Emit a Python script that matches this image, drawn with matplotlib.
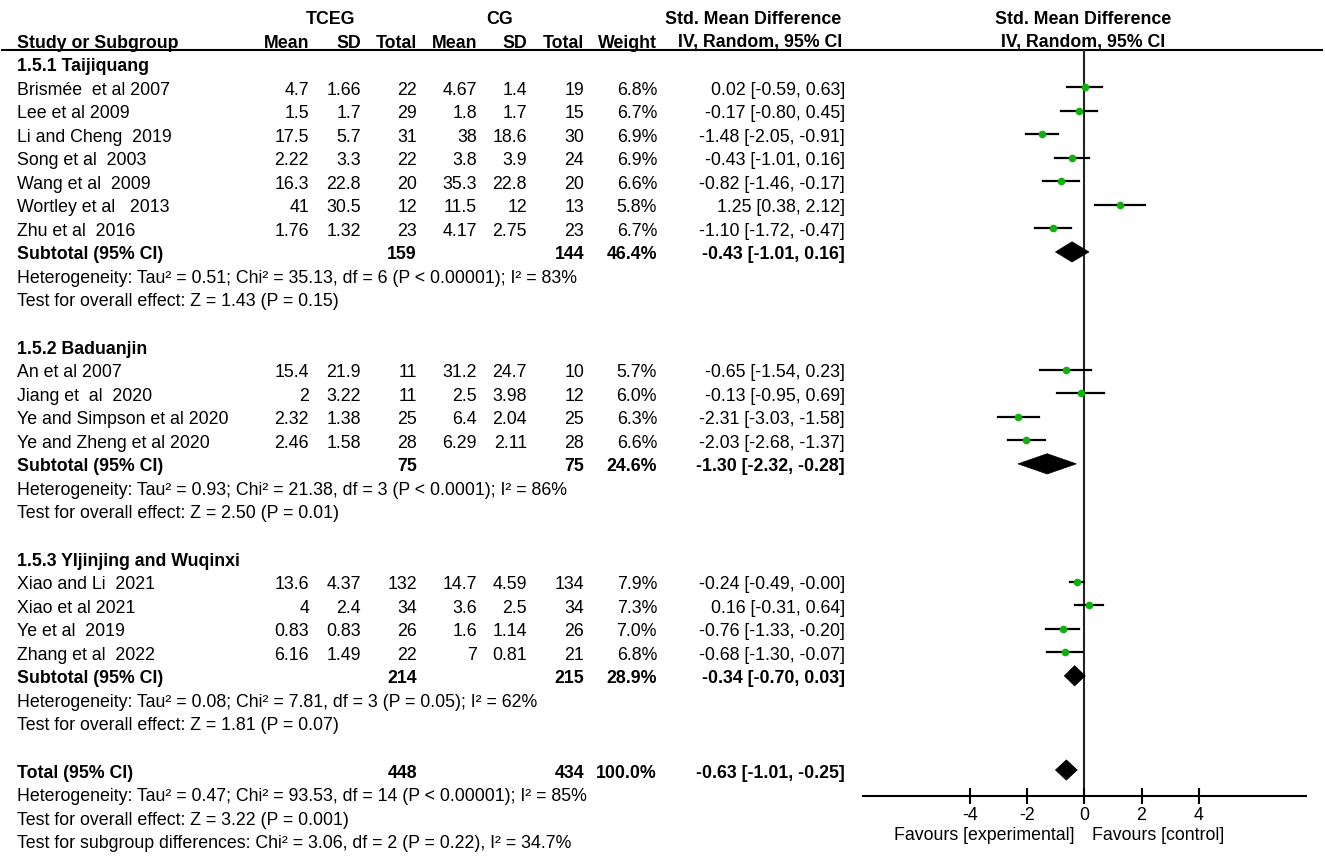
import numpy as np
import matplotlib
matplotlib.use("Agg")
import matplotlib.pyplot as plt
from matplotlib.patches import Polygon

plt.rcParams['font.family'] = ['Liberation Sans', 'DejaVu Sans']

# study level data
studies = ["Brismée  et al 2007", "Lee et al 2009", "Li and Cheng  2019", "Song et al  2003",
           "Wang et al  2009", "Wortley et al   2013", "Zhu et al  2016",
           "An et al 2007", "Jiang et  al  2020", "Ye and Simpson et al 2020", "Ye and Zheng et al 2020",
           "Xiao and Li  2021", "Xiao et al 2021", "Ye et al  2019", "Zhang et al  2022"]
group = [0]*7 + [1]*4 + [2]*4
t_mean = [4.7, 1.5, 17.5, 2.22, 16.3, 41, 1.76, 15.4, 2, 2.32, 2.46, 13.6, 4, 0.83, 6.16]
t_sd = [1.66, 1.7, 5.7, 3.3, 22.8, 30.5, 1.32, 21.9, 3.22, 1.38, 1.58, 4.37, 2.4, 0.83, 1.49]
t_n = [22, 29, 31, 22, 20, 12, 23, 11, 11, 25, 28, 132, 34, 26, 22]
c_mean = [4.67, 1.8, 38, 3.8, 35.3, 11.5, 4.17, 31.2, 2.5, 6.4, 6.29, 14.7, 3.6, 1.6, 7]
c_sd = [1.4, 1.7, 18.6, 3.9, 22.8, 12, 2.75, 24.7, 3.98, 2.04, 2.11, 4.59, 2.5, 1.14, 0.81]
c_n = [19, 15, 30, 24, 20, 13, 23, 10, 12, 25, 28, 134, 34, 26, 21]
weight = [6.8, 6.7, 6.9, 6.9, 6.6, 5.8, 6.7, 5.7, 6.0, 6.3, 6.6, 7.9, 7.3, 7.0, 6.8]
smd = [0.02, -0.17, -1.48, -0.43, -0.82, 1.25, -1.10, -0.65, -0.13, -2.31, -2.03, -0.24, 0.16, -0.76, -0.68]
ci_lo = [-0.59, -0.80, -2.05, -1.01, -1.46, 0.38, -1.72, -1.54, -0.95, -3.03, -2.68, -0.49, -0.31, -1.33, -1.30]
ci_hi = [0.63, 0.45, -0.91, 0.16, -0.17, 2.12, -0.47, 0.23, 0.69, -1.58, -1.37, -0.0, 0.64, -0.20, -0.07]

# subgroups
group_names = ["1.5.1 Taijiquang", "1.5.2 Baduanjin", "1.5.3 YIjinjing and Wuqinxi"]
sub_t_n = [159, 75, 214]
sub_c_n = [144, 75, 215]
sub_w = [46.4, 24.6, 28.9]
sub_smd = [-0.43, -1.30, -0.34]
sub_lo = [-1.01, -2.32, -0.70]
sub_hi = [0.16, -0.28, 0.03]
sub_het = ["Heterogeneity: Tau² = 0.51; Chi² = 35.13, df = 6 (P < 0.00001); I² = 83%",
           "Heterogeneity: Tau² = 0.93; Chi² = 21.38, df = 3 (P < 0.0001); I² = 86%",
           "Heterogeneity: Tau² = 0.08; Chi² = 7.81, df = 3 (P = 0.05); I² = 62%"]
sub_z = ["Test for overall effect: Z = 1.43 (P = 0.15)",
         "Test for overall effect: Z = 2.50 (P = 0.01)",
         "Test for overall effect: Z = 1.81 (P = 0.07)"]

# overall
tot_t_n, tot_c_n, tot_w = 448, 434, 100.0
tot_smd, tot_lo, tot_hi = -0.63, -1.01, -0.25
tot_notes = ["Heterogeneity: Tau² = 0.47; Chi² = 93.53, df = 14 (P < 0.00001); I² = 85%",
             "Test for overall effect: Z = 3.22 (P = 0.001)",
             "Test for subgroup differences: Chi² = 3.06, df = 2 (P = 0.22), I² = 34.7%"]

W, H = 1325, 858
FS = 12.8
ROW0, PITCH = 63.5, 23.55   # pixel y of row 0 marks, row spacing
TXT_OFF = 3.0

fig = plt.figure(figsize=(W/100, H/100), dpi=100)
tx = fig.add_axes([0, 0, 1, 1])
tx.set_xlim(0, W)
tx.set_ylim(H, 0)
tx.axis('off')

def ty(r):
    return ROW0 + PITCH*r + TXT_OFF

# column right edges (pixels)
cols = [309, 361, 417, 477, 527, 584, 657, 845]

def put(x, y, s, ha='right', bold=False):
    tx.text(x, y, s, ha=ha, va='center', fontsize=FS, fontweight='bold' if bold else 'normal')

# headers
put(330, 20, "TCEG", 'center', True)
put(500, 20, "CG", 'center', True)
put(753, 20, "Std. Mean Difference", 'center', True)
put(1083, 20, "Std. Mean Difference", 'center', True)
put(17, 43, "Study or Subgroup", 'left', True)
for x, s in zip(cols[:7], ["Mean", "SD", "Total", "Mean", "SD", "Total", "Weight"]):
    put(x, 43, s, 'right', True)
put(760, 43, "IV, Random, 95% CI", 'center', True)
put(1083, 43, "IV, Random, 95% CI", 'center', True)
tx.plot([2, 1322], [50, 50], color='black', lw=1.5)

# forest axes
ax_l, ax_r, ax_t, ax_b = 862.7, 1306, 50, 796
ax = fig.add_axes([ax_l/W, (H-ax_b)/H, (ax_r-ax_l)/W, (ax_b-ax_t)/H])
ax.patch.set_alpha(0)
ax.set_xlim(-7.75, 7.75)
ax.set_ylim((ax_b-ROW0)/PITCH, (ax_t-ROW0)/PITCH)
for s in ['top', 'left', 'right']:
    ax.spines[s].set_visible(False)
ax.spines['bottom'].set_linewidth(1.5)
ax.set_yticks([])
ax.set_xticks([-4, -2, 0, 2, 4])
ax.set_xticklabels(["-4", "-2", "0", "2", "4"])
ax.tick_params(axis='x', direction='inout', length=12, width=1.5, labelsize=FS, pad=2)
ax.axvline(0, color='#222222', lw=1.5, zorder=1)

def diamond(r, est, lo, hi):
    h = 0.43
    ax.add_patch(Polygon([[lo, r], [est, r-h], [hi, r], [est, r+h]], closed=True,
                         facecolor='black', edgecolor='black', lw=0.5, zorder=3))

row = 0
si = 0
for g in range(3):
    put(17, ty(row), group_names[g], 'left', True)
    row += 1
    while si < len(studies) and group[si] == g:
        y = ty(row)
        put(17, y, studies[si], 'left')
        vals = ["{:g}".format(t_mean[si]), "{:g}".format(t_sd[si]), str(t_n[si]),
                "{:g}".format(c_mean[si]), "{:g}".format(c_sd[si]), str(c_n[si]),
                "{:.1f}%".format(weight[si]),
                "{:.2f} [{:.2f}, {:.2f}]".format(smd[si], ci_lo[si], ci_hi[si])]
        for x, s in zip(cols, vals):
            put(x, y, s)
        ax.plot([ci_lo[si], ci_hi[si]], [row, row], color='black', lw=1.6, zorder=2)
        ax.plot(smd[si], row, 'o', color='#11b011', ms=4.5, mec='#11b011', zorder=4)
        row += 1
        si += 1
    y = ty(row)
    put(17, y, "Subtotal (95% CI)", 'left', True)
    put(cols[2], y, str(sub_t_n[g]), bold=True)
    put(cols[5], y, str(sub_c_n[g]), bold=True)
    put(cols[6], y, "{:.1f}%".format(sub_w[g]), bold=True)
    put(cols[7], y, "{:.2f} [{:.2f}, {:.2f}]".format(sub_smd[g], sub_lo[g], sub_hi[g]), bold=True)
    diamond(row, sub_smd[g], sub_lo[g], sub_hi[g])
    row += 1
    put(17, ty(row), sub_het[g], 'left')
    row += 1
    put(17, ty(row), sub_z[g], 'left')
    row += 2

y = ty(row)
put(17, y, "Total (95% CI)", 'left', True)
put(cols[2], y, str(tot_t_n), bold=True)
put(cols[5], y, str(tot_c_n), bold=True)
put(cols[6], y, "{:.1f}%".format(tot_w), bold=True)
put(cols[7], y, "{:.2f} [{:.2f}, {:.2f}]".format(tot_smd, tot_lo, tot_hi), bold=True)
diamond(row, tot_smd, tot_lo, tot_hi)
row += 1
for s in tot_notes:
    put(17, ty(row), s, 'left')
    row += 1

put(1075, 835, "Favours [experimental]", 'right')
put(1092, 835, "Favours [control]", 'left')

fig.savefig("out.png", dpi=100)
